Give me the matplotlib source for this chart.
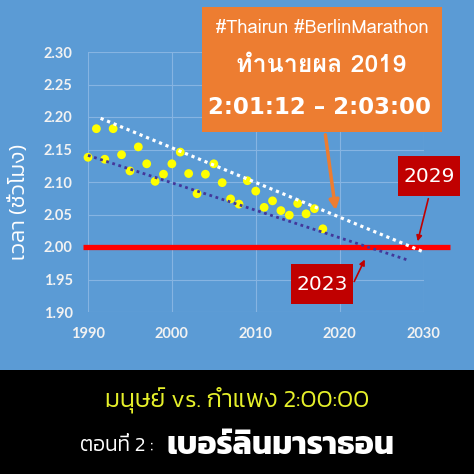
import matplotlib
matplotlib.use("Agg")
import matplotlib.pyplot as plt
from matplotlib.patches import Rectangle, FancyArrowPatch

plt.rcParams["font.family"] = ["Loma", "DejaVu Sans"]
thin_thai = ["Kanit", "Loma", "DejaVu Sans"]

# Berlin marathon winning times (hours)
years = list(range(1990, 2019))
times = [2.138, 2.182, 2.135, 2.182, 2.142, 2.117, 2.154, 2.128, 2.101, 2.112,
         2.128, 2.146, 2.113, 2.082, 2.112, 2.128, 2.099, 2.074, 2.066, 2.102,
         2.086, 2.061, 2.071, 2.056, 2.049, 2.067, 2.051, 2.059, 2.028]
# trend lines (start/end)
trend_low_x = [1990, 2028.1]
trend_low_y = [2.141, 1.980]
trend_high_x = [1991.5, 2029.9]
trend_high_y = [2.198, 1.993]
wall_x = [1989.4, 2033.1]
wall_y = [2.0, 2.0]

bg = "#5B9BD5"
fig = plt.figure(figsize=(4.74, 4.74), dpi=100, facecolor=bg)
ax = fig.add_axes([88 / 474, 1 - 312 / 474, 335.5 / 474, 260 / 474])
ax.set_facecolor(bg)
ax.set_xlim(1990, 2030)
ax.set_ylim(1.90, 2.30)
ax.set_xticks([1990, 2000, 2010, 2020, 2030])
ax.set_yticks([1.90, 1.95, 2.00, 2.05, 2.10, 2.15, 2.20, 2.25, 2.30])
ax.set_yticklabels([f"{v:.2f}" for v in ax.get_yticks()])
for s in ax.spines.values():
    s.set_visible(False)
ax.grid(True, color="#86B4E2", linewidth=0.8)
ax.tick_params(length=0, colors="#F2F2F2", labelsize=10.5, pad=11)
for lab in ax.get_xticklabels() + ax.get_yticklabels():
    lab.set_fontweight("bold")
    lab.set_family(["Lato", "DejaVu Sans"])

ax.plot(wall_x, wall_y, color="#FF0000", linewidth=3.8, clip_on=False, zorder=2, solid_capstyle="butt")
ax.scatter(years, times, s=40, color="#FFFF00", edgecolors="none", zorder=3, clip_on=False)
ax.plot(trend_low_x, trend_low_y, color="#43379A", linewidth=2.0, linestyle=(0, (1, 1.3)), zorder=4, clip_on=False)
ax.plot(trend_high_x, trend_high_y, color="white", linewidth=2.3, linestyle=(0, (1, 1.2)), zorder=4, clip_on=False)

ax.set_ylabel("เวลา (ชั่วโมง)", color="white", fontsize=16, fontweight=300, family=thin_thai)
ax.yaxis.set_label_coords(-0.175, 0.423)

# orange callout box
fig.patches.append(Rectangle((202 / 474, 1 - 132 / 474), 240 / 474, 125 / 474,
                             transform=fig.transFigure, facecolor="#ED7D31", edgecolor="none", zorder=5))
fig.text(322 / 474, 1 - 28 / 474, "#Thairun #BerlinMarathon", color="white", fontsize=13.2,
         ha="center", va="center", zorder=6)
fig.text(321 / 474, 1 - 65 / 474, "ทำนายผล 2019", color="white", fontsize=18, fontweight="bold",
         ha="center", va="center", zorder=6)
fig.text(320 / 474, 1 - 107 / 474, "2:01:12 – 2:03:00", color="white", fontsize=16.5, fontweight="bold",
         family="DejaVu Sans", ha="center", va="center", zorder=6)
fig.patches.append(FancyArrowPatch((325 / 474, 1 - 132 / 474), (336 / 474, 1 - 213 / 474),
                                   transform=fig.transFigure, color="#ED7D31", linewidth=2.5,
                                   arrowstyle="-|>", mutation_scale=14, zorder=5))

# red year labels
for x0, y0, w, h, txt, tail, head in [
        (398, 156, 62, 40, "2029", (429, 196), (417, 244)),
        (291, 264, 62, 40, "2023", (353, 284), (366, 257))]:
    fig.patches.append(Rectangle((x0 / 474, 1 - (y0 + h) / 474), w / 474, h / 474,
                                 transform=fig.transFigure, facecolor="#C00000", edgecolor="none", zorder=5))
    fig.text((x0 + w / 2) / 474, 1 - (y0 + h / 2) / 474, txt, color="white", fontsize=14.5,
             family="DejaVu Sans", ha="center", va="center", zorder=6)
    fig.patches.append(FancyArrowPatch((tail[0] / 474, 1 - tail[1] / 474), (head[0] / 474, 1 - head[1] / 474),
                                       transform=fig.transFigure, color="#C00000", linewidth=1.2,
                                       arrowstyle="-|>", mutation_scale=8, zorder=5))

# black title band
fig.patches.append(Rectangle((0, 0), 1, 1 - 370 / 474, transform=fig.transFigure,
                             facecolor="black", edgecolor="none", zorder=1))
fig.text(237 / 474, 1 - 400 / 474, "มนุษย์ vs. กำแพง 2:00:00", color="#E6F02A", fontsize=18,
         fontweight=300, family=thin_thai, ha="center", va="center", zorder=6)
fig.text(153 / 474, 1 - 446 / 474, "ตอนที่ 2 :", color="white", fontsize=15,
         fontweight=300, family=thin_thai, ha="right", va="center", zorder=6)
fig.text(166 / 474, 1 - 446 / 474, "เบอร์ลินมาราธอน", color="white", fontsize=23, fontweight="bold",
         family=thin_thai, ha="left", va="center", zorder=6)

fig.savefig("out.png", dpi=100, facecolor=bg)
